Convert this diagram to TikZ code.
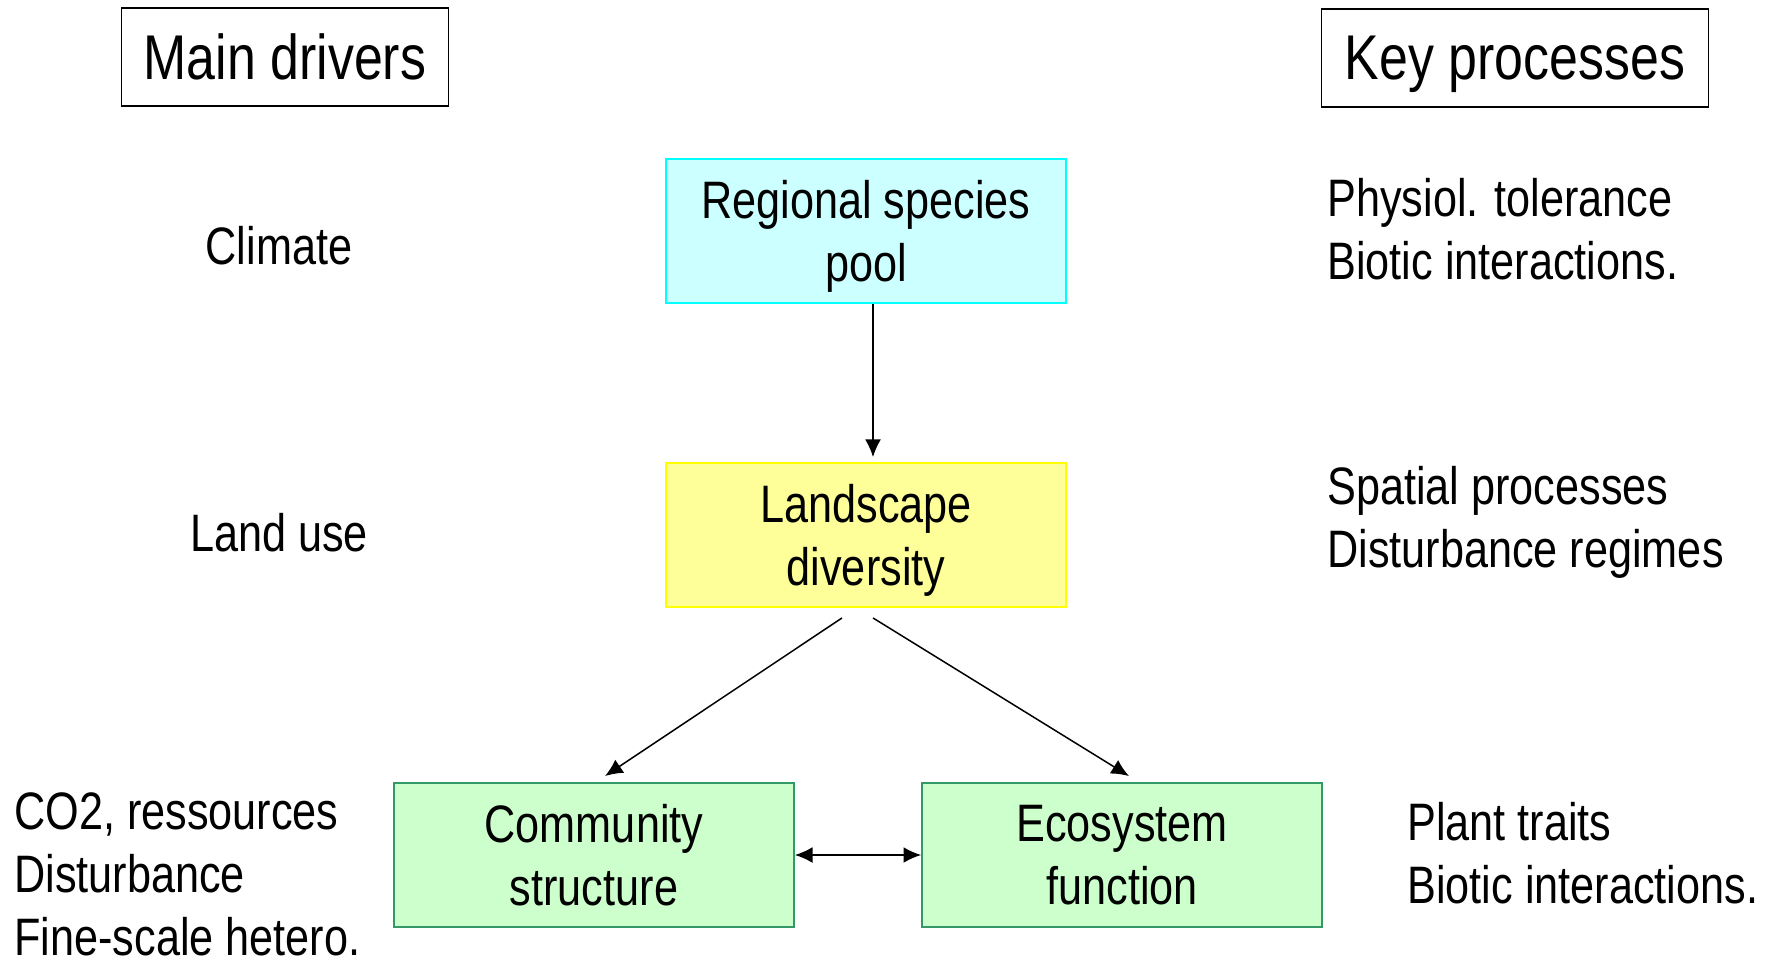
\documentclass[tikz,border=0pt]{standalone}
\usepackage{fontspec}
\setmainfont{Liberation Sans}[FakeStretch=0.82]
\usetikzlibrary{positioning,arrows.meta}

\definecolor{poolfill}{HTML}{CCFFFF}
\definecolor{pooldraw}{HTML}{00FFFF}
\definecolor{landfill}{HTML}{FFFF99}
\definecolor{landdraw}{HTML}{FFFF00}
\definecolor{greenfill}{HTML}{CCFFCC}
\definecolor{greendraw}{HTML}{339966}

\tikzset{
  box/.style={draw, line width=1.1pt, minimum width=8cm, minimum height=2.88cm,
    align=center, text depth=0pt, font=\fontsize{30}{36}\selectfont},
  headbox/.style={draw, line width=1pt, minimum height=1.95cm, inner xsep=8pt,
    text depth=0pt, font=\fontsize{36}{42}\selectfont},
  sidetext/.style={align=left, inner sep=0pt, text depth=0pt, font=\fontsize{30}{36}\selectfont},
  link/.style={line width=0.85pt, -{Latex[length=10pt,width=9pt]}},
}

\begin{document}
\begin{tikzpicture}[x=0.02cm, y=-0.02cm]
  \useasboundingbox (0,0) rectangle (1769,960);

  % Column headers
  \node[headbox, minimum width=6.54cm] (drivers) at (285,57) {Main drivers};
  \node[headbox, minimum width=7.74cm] (processes) at (1515,58) {Key processes};

  % Central boxes
  \node[box, fill=poolfill, draw=pooldraw] (pool) at (866,231) {Regional species\\pool};
  \node[box, fill=landfill, draw=landdraw] (land) at (866,535) {Landscape\\diversity};
  \node[box, fill=greenfill, draw=greendraw] (comm) at (594,855) {Community\\structure};
  \node[box, fill=greenfill, draw=greendraw] (eco) at (1122,855) {Ecosystem\\function};

  % Drivers (left)
  \node[sidetext] (climate) at (279,245) {Climate};
  \node[sidetext] (landuse) at (279,532) {Land use};
  \node[sidetext, anchor=west] (local) at (14,874) {CO2, ressources\\Disturbance\\Fine-scale hetero.};

  % Processes (right)
  \node[sidetext, anchor=west] (physiol) at (1327,229) {Physiol. tolerance\\Biotic interactions.};
  \node[sidetext, anchor=west] (spatial) at (1327,517) {Spatial processes\\Disturbance regimes};
  \node[sidetext, anchor=west] (traits) at (1407,853) {Plant traits\\Biotic interactions.};

  % Arrows
  \draw[link] ([shift={(7,0)}]pool.south) -- ([shift={(7,-5)}]land.north);
  \draw[link] ([shift={(-24,10)}]land.south) -- ([shift={(11,-6)}]comm.north);
  \draw[link] ([shift={(7,10)}]land.south) -- ([shift={(7,-6)}]eco.north);
  \draw[link, {Latex[length=10pt,width=9pt]}-{Latex[length=10pt,width=9pt]}] (comm.east) -- (eco.west);
\end{tikzpicture}
\end{document}
